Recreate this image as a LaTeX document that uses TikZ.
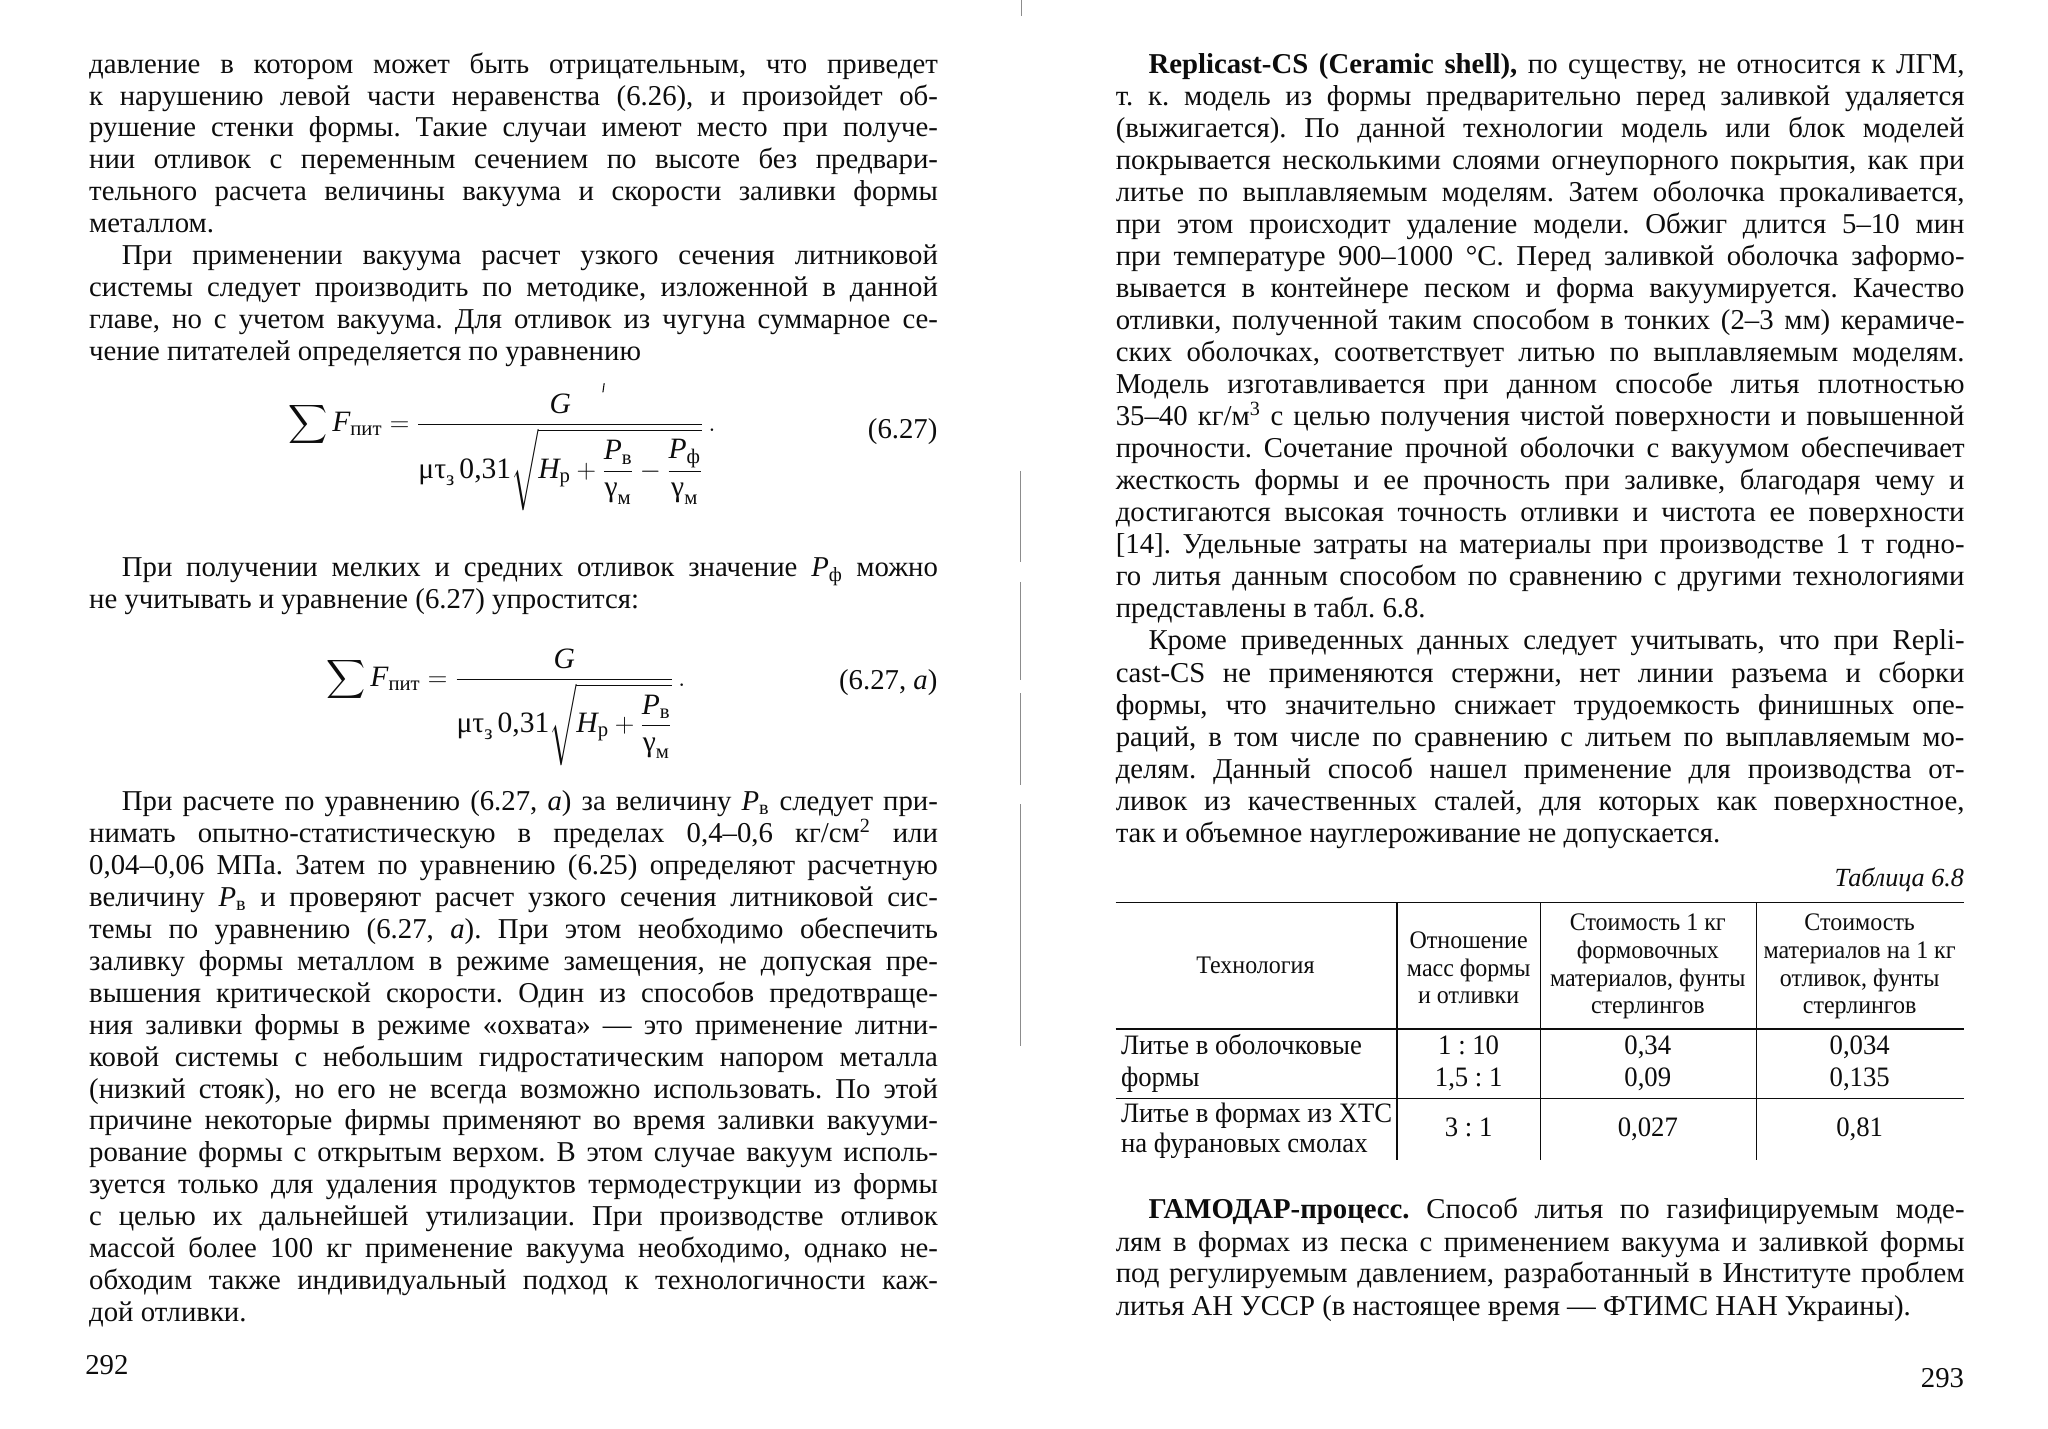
\documentclass[tikz,border=0pt]{standalone}
\usepackage{amsmath}
\usepackage{fontspec}
\setmainfont{Liberation Serif}
\newfontfamily\condfont[FakeStretch=0.95]{Liberation Serif}
\usepackage{tikz}
\usetikzlibrary{positioning}
\definecolor{ink}{gray}{0.05}
\definecolor{gutter}{gray}{0.55}
\frenchspacing
\newcommand{\bodyfont}{\fontsize{22}{24}\selectfont}
\newcommand{\mathfont}{\fontsize{22.6}{26}\selectfont}
\newcommand{\headfont}{\condfont\fontsize{19.3}{21.3}\selectfont}
\newcommand{\cellfont}{\condfont\fontsize{21.5}{24}\selectfont}
\newcommand{\jl}[1]{\makebox[649pt][s]{#1}}
\newcommand{\jli}[1]{\hspace*{25pt}\makebox[624pt][s]{#1}}
\newcommand{\ind}{\hspace*{25pt}}
\newcommand{\sub}[1]{\textsubscript{#1}}

\begin{document}
\begin{tikzpicture}[x=1pt,y=-1pt,
  lne/.style={anchor=base west, inner sep=0pt, text=ink, font=\bodyfont},
  frm/.style={anchor=base, inner sep=0pt, text=ink, font=\mathfont},
  cell/.style={anchor=base, inner sep=0pt, text=ink, font=\cellfont},
  head/.style={align=center, inner sep=0pt, text=ink, font=\headfont},
  rule/.style={ink, line width=1.3pt}]

\useasboundingbox (0,0) rectangle (1566,1092);
\fill[white] (0,0) rectangle (1566,1092);

% left page
\node[lne] (l1) at (68,56) {\jl{давление в котором может быть отрицательным, что приведет}};
\node[lne] (l2) at (68,80.3) {\jl{к нарушению левой части неравенства (6.26), и произойдет об-}};
\node[lne] (l3) at (68,104.6) {\jl{рушение стенки формы. Такие случаи имеют место при получе-}};
\node[lne] (l4) at (68,129) {\jl{нии отливок с переменным сечением по высоте без предвари-}};
\node[lne] (l5) at (68,153.4) {\jl{тельного расчета величины вакуума и скорости заливки формы}};
\node[lne] (l6) at (68,177.8) {металлом.};
\node[lne] (l7) at (68,202.2) {\jli{При применении вакуума расчет узкого сечения литниковой}};
\node[lne] (l8) at (68,226.6) {\jl{системы следует производить по методике, изложенной в данной}};
\node[lne] (l9) at (68,251) {\jl{главе, но с учетом вакуума. Для отливок из чугуна суммарное се-}};
\node[lne] (l10) at (68,275.4) {чение питателей определяется по уравнению};

\node[frm] (eq1) at (384,330)
  {$\displaystyle \sum \mathit{F}_{\text{пит}} = \frac{\mathit{G}}{\text{μτ}_{\text{з}}\,\text{0,31}\sqrt{\mathit{H}_{\text{р}} + \dfrac{\mathit{P}_{\text{в}}}{\text{γ}_{\text{м}}} - \dfrac{\mathit{P}_{\text{ф}}}{\text{γ}_{\text{м}}}}}\,.$};
\node[lne, anchor=base east] (n1) at (717,335) {(6.27)};
\draw[ink, line width=0.8pt] (462,293) -- (461,300);

\node[lne] (l11) at (68,441) {\jli{При получении мелких и средних отливок значение \textit{P}\sub{ф} можно}};
\node[lne] (l12) at (68,465) {не учитывать и уравнение (6.27) упростится:};

\node[frm] (eq2) at (387,525)
  {$\displaystyle \sum \mathit{F}_{\text{пит}} = \frac{\mathit{G}}{\text{μτ}_{\text{з}}\,\text{0,31}\sqrt{\mathit{H}_{\text{р}} + \dfrac{\mathit{P}_{\text{в}}}{\text{γ}_{\text{м}}}}}\,.$};
\node[lne, anchor=base east] (n2) at (717,527) {(6.27, \textit{a})};

\node[lne] (l13) at (68,620) {\jli{При расчете по уравнению (6.27, \textit{a}) за величину \textit{P}\sub{в} следует при-}};
\node[lne] (l14) at (68,644.4) {\jl{нимать опытно-статистическую в пределах 0,4–0,6 кг/см\textsuperscript{2} или}};
\node[lne] (l15) at (68,668.8) {\jl{0,04–0,06 МПа. Затем по уравнению (6.25) определяют расчетную}};
\node[lne] (l16) at (68,693.2) {\jl{величину \textit{P}\sub{в} и проверяют расчет узкого сечения литниковой сис-}};
\node[lne] (l17) at (68,717.6) {\jl{темы по уравнению (6.27, \textit{a}). При этом необходимо обеспечить}};
\node[lne] (l18) at (68,742) {\jl{заливку формы металлом в режиме замещения, не допуская пре-}};
\node[lne] (l19) at (68,766.4) {\jl{вышения критической скорости. Один из способов предотвраще-}};
\node[lne] (l20) at (68,790.8) {\jl{ния заливки формы в режиме «охвата» — это применение литни-}};
\node[lne] (l21) at (68,815.2) {\jl{ковой системы с небольшим гидростатическим напором металла}};
\node[lne] (l22) at (68,839.6) {\jl{(низкий стояк), но его не всегда возможно использовать. По этой}};
\node[lne] (l23) at (68,864) {\jl{причине некоторые фирмы применяют во время заливки вакууми-}};
\node[lne] (l24) at (68,888.4) {\jl{рование формы с открытым верхом. В этом случае вакуум исполь-}};
\node[lne] (l25) at (68,912.8) {\jl{зуется только для удаления продуктов термодеструкции из формы}};
\node[lne] (l26) at (68,937.2) {\jl{с целью их дальнейшей утилизации. При производстве отливок}};
\node[lne] (l27) at (68,961.6) {\jl{массой более 100 кг применение вакуума необходимо, однако не-}};
\node[lne] (l28) at (68,986) {\jl{обходим также индивидуальный подход к технологичности каж-}};
\node[lne] (l29) at (68,1010.4) {дой отливки.};
\node[lne] (p292) at (65,1051) {292};

% gutter
\draw[gutter, line width=0.8pt] (781,0) -- (781,12);
\draw[gutter, line width=0.8pt] (780,360) -- (780,430);
\draw[gutter, line width=0.8pt] (780,445) -- (780,520);
\draw[gutter, line width=0.8pt] (780,530) -- (780,600);
\draw[gutter, line width=0.8pt] (780,615) -- (780,800);

% right page
\node[lne] (r1) at (853,56) {\jli{\textbf{Replicast-CS (Ceramic shell),} по существу, не относится к ЛГМ,}};
\node[lne] (r2) at (853,80.5) {\jl{т. к. модель из формы предварительно перед заливкой удаляется}};
\node[lne] (r3) at (853,105) {\jl{(выжигается). По данной технологии модель или блок моделей}};
\node[lne] (r4) at (853,129.5) {\jl{покрывается несколькими слоями огнеупорного покрытия, как при}};
\node[lne] (r5) at (853,154) {\jl{литье по выплавляемым моделям. Затем оболочка прокаливается,}};
\node[lne] (r6) at (853,178.5) {\jl{при этом происходит удаление модели. Обжиг длится 5–10 мин}};
\node[lne] (r7) at (853,203) {\jl{при температуре 900–1000 °С. Перед заливкой оболочка заформо-}};
\node[lne] (r8) at (853,227.5) {\jl{вывается в контейнере песком и форма вакуумируется. Качество}};
\node[lne] (r9) at (853,252) {\jl{отливки, полученной таким способом в тонких (2–3 мм) керамиче-}};
\node[lne] (r10) at (853,276.5) {\jl{ских оболочках, соответствует литью по выплавляемым моделям.}};
\node[lne] (r11) at (853,301) {\jl{Модель изготавливается при данном способе литья плотностью}};
\node[lne] (r12) at (853,325.5) {\jl{35–40 кг/м\textsuperscript{3} с целью получения чистой поверхности и повышенной}};
\node[lne] (r13) at (853,350) {\jl{прочности. Сочетание прочной оболочки с вакуумом обеспечивает}};
\node[lne] (r14) at (853,374.5) {\jl{жесткость формы и ее прочность при заливке, благодаря чему и}};
\node[lne] (r15) at (853,399) {\jl{достигаются высокая точность отливки и чистота ее поверхности}};
\node[lne] (r16) at (853,423.5) {\jl{[14]. Удельные затраты на материалы при производстве 1 т годно-}};
\node[lne] (r17) at (853,448) {\jl{го литья данным способом по сравнению с другими технологиями}};
\node[lne] (r18) at (853,472.5) {представлены в табл. 6.8.};
\node[lne] (r19) at (853,497) {\jli{Кроме приведенных данных следует учитывать, что при Repli-}};
\node[lne] (r20) at (853,521.5) {\jl{cast-CS не применяются стержни, нет линии разъема и сборки}};
\node[lne] (r21) at (853,546) {\jl{формы, что значительно снижает трудоемкость финишных опе-}};
\node[lne] (r22) at (853,570.5) {\jl{раций, в том числе по сравнению с литьем по выплавляемым мо-}};
\node[lne] (r23) at (853,595) {\jl{делям. Данный способ нашел применение для производства от-}};
\node[lne] (r24) at (853,619.5) {\jl{ливок из качественных сталей, для которых как поверхностное,}};
\node[lne] (r25) at (853,644) {так и объемное науглероживание не допускается.};

\node[lne, anchor=base east, font=\fontsize{20}{24}\selectfont\itshape] (cap) at (1502,678) {Таблица 6.8};

% table
\draw[rule] (853,690) -- (1502,690);
\draw[rule] (853,787) -- (1502,787);
\draw[rule] (853,840) -- (1502,840);
\draw[rule] (1068,690) -- (1068,887);
\draw[rule] (1178,690) -- (1178,887);
\draw[rule] (1343,690) -- (1343,887);

\node[head] (h1) at (960,738) {Технология};
\node[head] (h2) at (1123,740) {Отношение\\масс формы\\и отливки};
\node[head] (h3) at (1260,739) {Стоимость 1 кг\\формовочных\\материалов, фунты\\стерлингов};
\node[head] (h4) at (1422,739) {Стоимость\\материалов на 1 кг\\отливок, фунты\\стерлингов};

\node[cell, anchor=base west] (c11) at (857,806) {Литье в оболочковые};
\node[cell, anchor=base west] (c12) at (857,831) {формы};
\node[cell] (c21) at (1123,806) {1 : 10};
\node[cell] (c22) at (1123,831) {1,5 : 1};
\node[cell] (c31) at (1260,806) {0,34};
\node[cell] (c32) at (1260,831) {0,09};
\node[cell] (c41) at (1422,806) {0,034};
\node[cell] (c42) at (1422,831) {0,135};
\node[cell, anchor=base west] (c13) at (857,858) {Литье в формах из ХТС};
\node[cell, anchor=base west] (c14) at (857,881) {на фурановых смолах};
\node[cell] (c23) at (1123,869) {3 : 1};
\node[cell] (c33) at (1260,869) {0,027};
\node[cell] (c43) at (1422,869) {0,81};

\node[lne] (g1) at (853,932) {\jli{\textbf{ГАМОДАР-процесс.} Способ литья по газифицируемым моде-}};
\node[lne] (g2) at (853,957) {\jl{лям в формах из песка с применением вакуума и заливкой формы}};
\node[lne] (g3) at (853,981) {\jl{под регулируемым давлением, разработанный в Институте проблем}};
\node[lne] (g4) at (853,1006) {литья АН УССР (в настоящее время — ФТИМС НАН Украины).};
\node[lne, anchor=base east] (p293) at (1502,1061) {293};

\end{tikzpicture}
\end{document}
